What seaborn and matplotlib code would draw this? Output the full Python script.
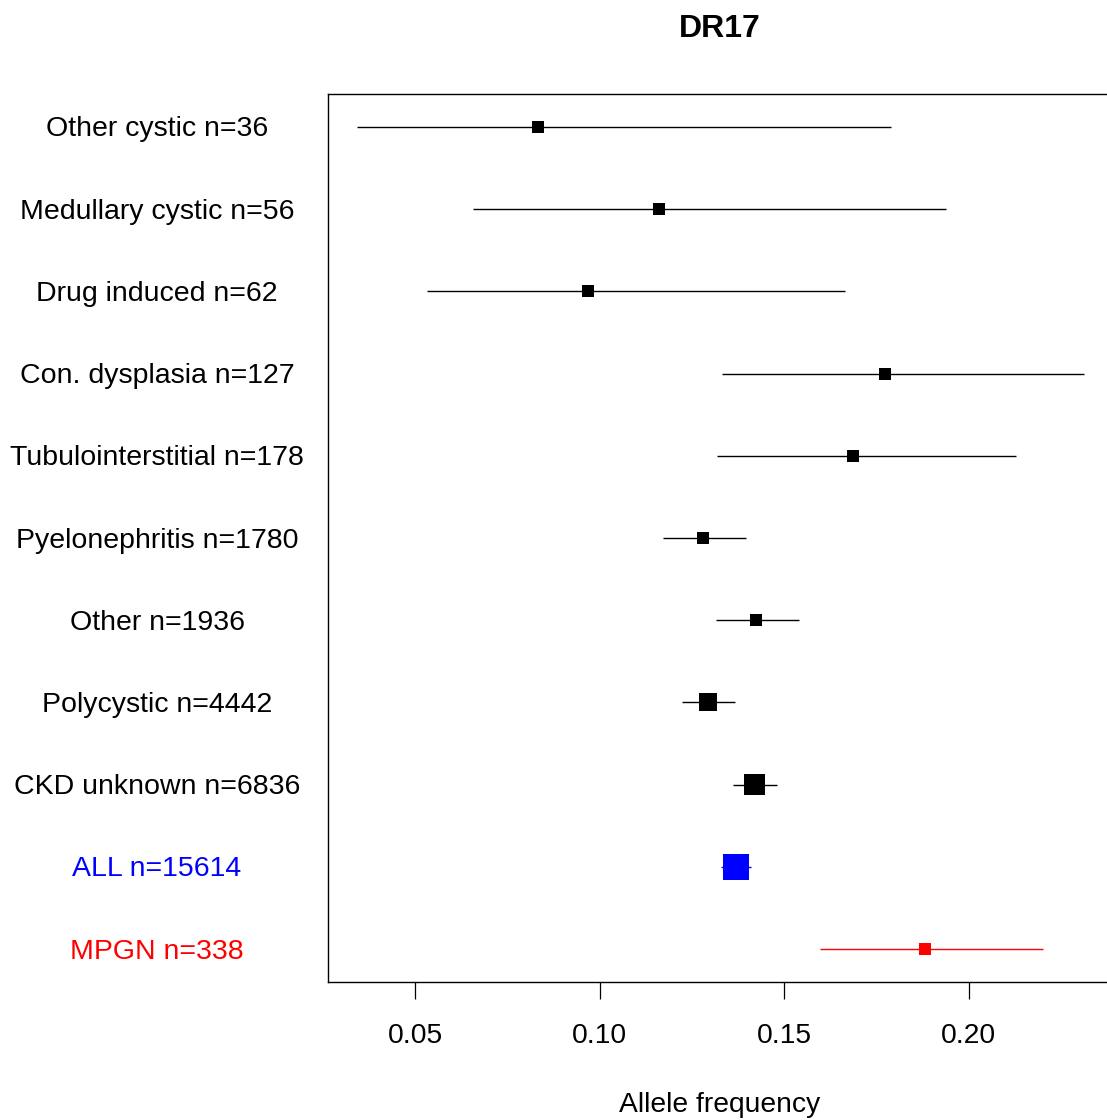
import numpy as np
import pandas as pd
import matplotlib
matplotlib.use("Agg")
import matplotlib.pyplot as plt
import matplotlib.transforms as mtransforms
import seaborn as sns

# values (allele frequency with confidence interval)
labels = ["Other cystic n=36", "Medullary cystic n=56", "Drug induced n=62",
          "Con. dysplasia n=127", "Tubulointerstitial n=178", "Pyelonephritis n=1780",
          "Other n=1936", "Polycystic n=4442", "CKD unknown n=6836",
          "ALL n=15614", "MPGN n=338"]
groups = ["subtype"] * 9 + ["all", "mpgn"]
freq = [0.0833, 0.1161, 0.0968, 0.1773, 0.1686, 0.1280,
        0.1423, 0.1293, 0.1418, 0.1369, 0.1881]
ci_low = [0.0343, 0.0657, 0.0532, 0.1331, 0.1318, 0.1172,
          0.1315, 0.1223, 0.1361, 0.1329, 0.1597]
ci_high = [0.1789, 0.1938, 0.1664, 0.2312, 0.2127, 0.1396,
           0.1540, 0.1367, 0.1480, 0.1409, 0.2200]
xticks = [0.05, 0.10, 0.15, 0.20]

df = pd.DataFrame({"label": labels, "group": groups, "freq": freq,
                   "lo": ci_low, "hi": ci_high})
df["pos"] = np.arange(len(df))[::-1] + 1

# styling
colors = {"subtype": "black", "all": "blue", "mpgn": "red"}
box_px = [12, 12, 12, 12, 12, 12, 12, 18, 21, 26, 12]
sizes = {lab: (px * 0.72) ** 2 for lab, px in zip(labels, box_px)}

sns.set_style("white")
plt.rcParams["font.family"] = ["Liberation Sans", "DejaVu Sans"]
plt.rcParams["text.color"] = "black"
plt.rcParams["axes.labelcolor"] = "black"
plt.rcParams["xtick.color"] = "black"

W, H = 1107, 1120
fig = plt.figure(figsize=(W / 100, H / 100), dpi=100)
ax = fig.add_axes([328 / W, (H - 982) / H, (1110 - 328) / W, 888 / H])

ax.hlines(df["pos"], df["lo"], df["hi"], colors=[colors[g] for g in df["group"]],
          linewidth=1.0, zorder=2)
sns.scatterplot(data=df, x="freq", y="pos", hue="group", palette=colors,
                size="label", sizes=sizes, marker="s", linewidth=0,
                legend=False, ax=ax, zorder=3)

ax.set_xlim(0.02644, 0.2382)
ax.set_ylim(0.6, len(df) + 0.4)
ax.set_yticks([])
ax.set_xticks(xticks)
ax.set_xticklabels([f"{t:.2f}" for t in xticks], fontsize=20.3)
ax.tick_params(axis="x", length=12, width=0.9, pad=17.5, color="black",
               labelcolor="black", bottom=True)
ax.set_ylabel("")
ax.set_xlabel("Allele frequency", fontsize=20.3, color="black")
ax.xaxis.set_label_coords(0.501, -0.124)

for side in ["left", "top", "bottom", "right"]:
    ax.spines[side].set_color("black")
    ax.spines[side].set_linewidth(1.0)

# category labels sit centred in the left margin, as in the original
trans = mtransforms.blended_transform_factory(fig.transFigure, ax.transData)
trans = mtransforms.offset_copy(trans, fig=fig, y=-2.5, units="dots")
for _, row in df.iterrows():
    ax.text(157 / W, row["pos"], row["label"], transform=trans, ha="center",
            va="center", fontsize=20.5, color=colors[row["group"]], clip_on=False)

fig.text(720 / W, 1 - 37 / H, "DR17", ha="center", va="baseline",
         fontsize=23, fontweight="bold", color="black")

fig.savefig("out.png", dpi=100)
